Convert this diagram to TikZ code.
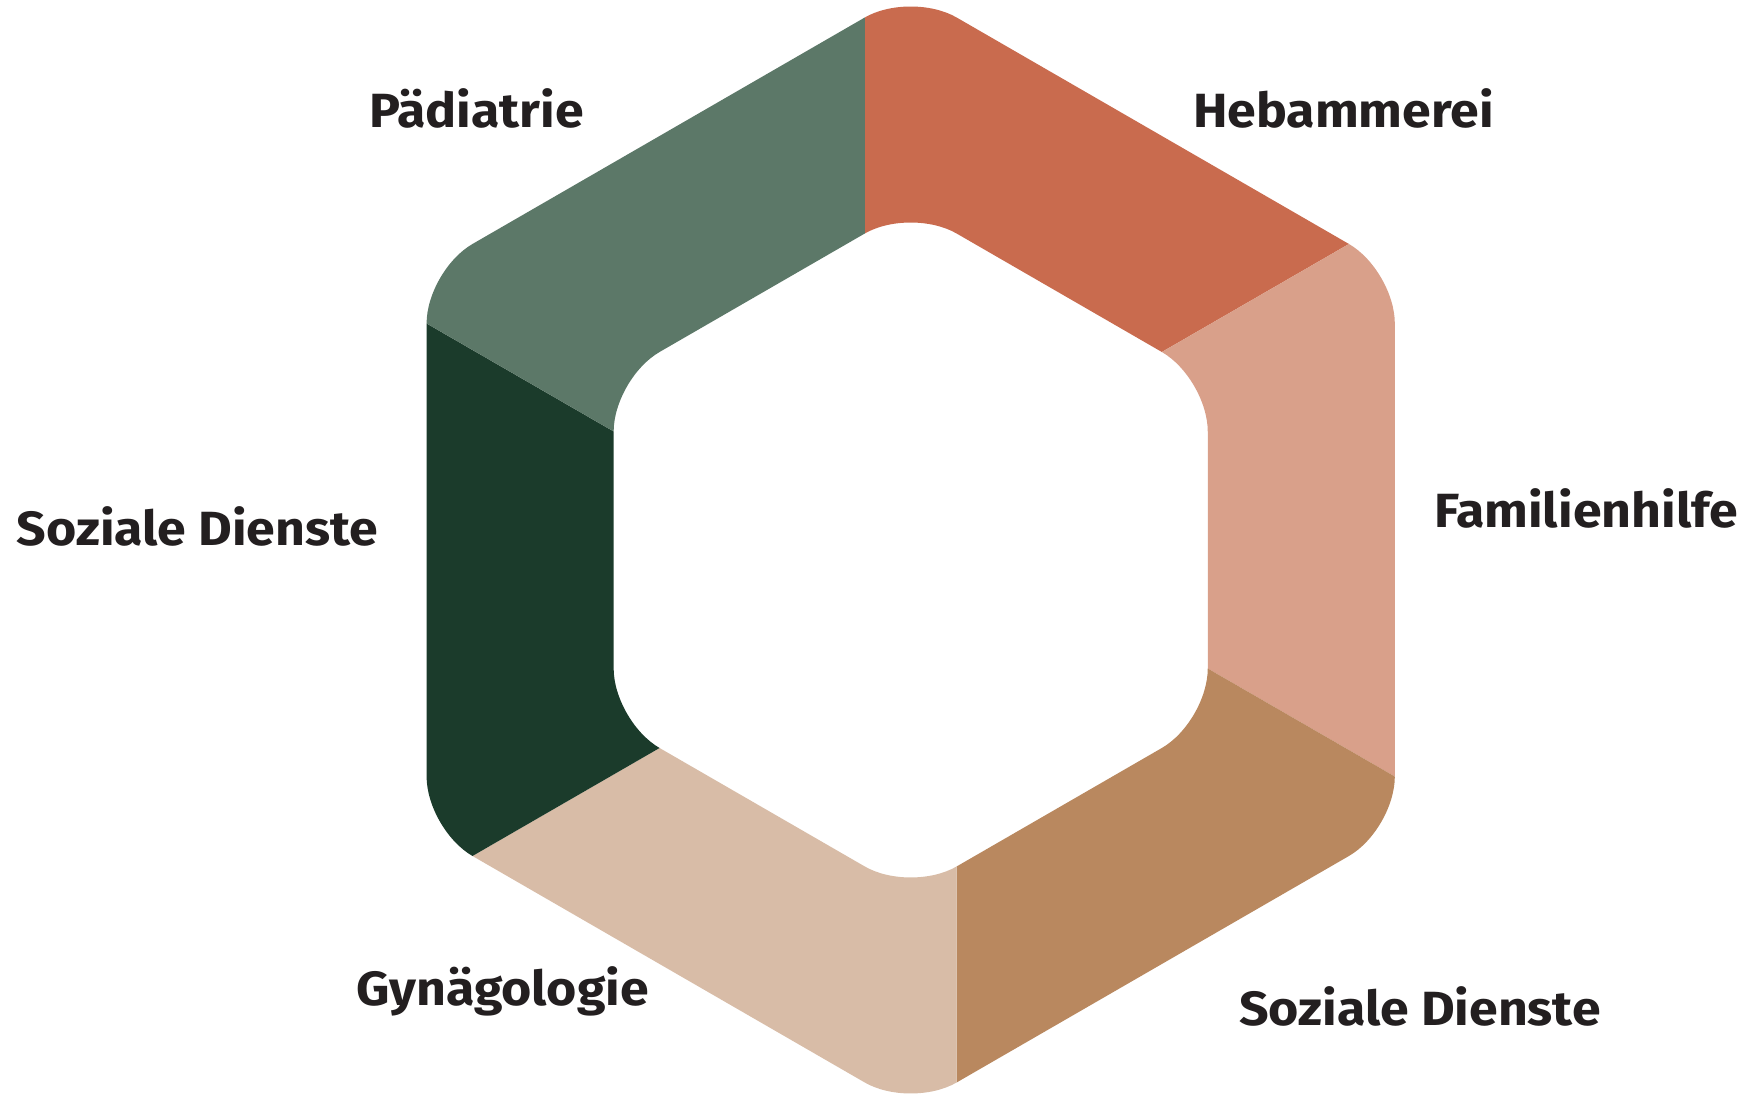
\documentclass[tikz,border=0pt]{standalone}
\usepackage{fontspec}
\setmainfont{Fira Sans}[FakeStretch=1.08]
\usetikzlibrary{calc}
\definecolor{cHeb}{HTML}{C96B4E}
\definecolor{cFam}{HTML}{D9A08A}
\definecolor{cSozR}{HTML}{B9885F}
\definecolor{cGyn}{HTML}{D8BCA7}
\definecolor{cSozL}{HTML}{1B3B2B}
\definecolor{cPad}{HTML}{5C7868}
\definecolor{txt}{HTML}{231F20}
\tikzset{
  lbl/.style={anchor=base, inner sep=0pt, text=txt, font=\fontsize{48}{56}\selectfont\bfseries},
}
\begin{document}
\begin{tikzpicture}[x=1pt,y=1pt]
\useasboundingbox (0,0) rectangle (1751,1095);
\fill[white] (0,0) rectangle (1751,1095);
\begin{scope}[shift={(910.7,545)}]
\def\d{45.9}
\foreach \a/\col in {90/cHeb, 30/cFam, -30/cSozR, -90/cGyn, -150/cSozL, 150/cPad} {
  \begin{scope}
    \clip ({\a+90}:\d) -- ($({\a+90}:\d)+(\a:1000)$) -- ($({\a+30}:\d)+({\a-60}:1000)$) -- ({\a+30}:\d) -- cycle;
    \fill[\col, even odd rule, rounded corners=53pt]
      (90:559) -- (30:559) -- (-30:559) -- (-90:559) -- (-150:559) -- (150:559) -- cycle
      (90:343) -- (30:343) -- (-30:343) -- (-90:343) -- (-150:343) -- (150:343) -- cycle;
  \end{scope}
}
\end{scope}
\node[lbl] (pad) at (476.5,967) {Pädiatrie};
\node[lbl] (heb) at (1343.5,967) {Hebammerei};
\node[lbl] (fam) at (1586,567) {Familienhilfe};
\node[lbl] (sozl) at (197.5,549) {Soziale Dienste};
\node[lbl] (gyn) at (502.5,89) {Gynägologie};
\node[lbl] (sozr) at (1420,69) {Soziale Dienste};
\end{tikzpicture}
\end{document}
